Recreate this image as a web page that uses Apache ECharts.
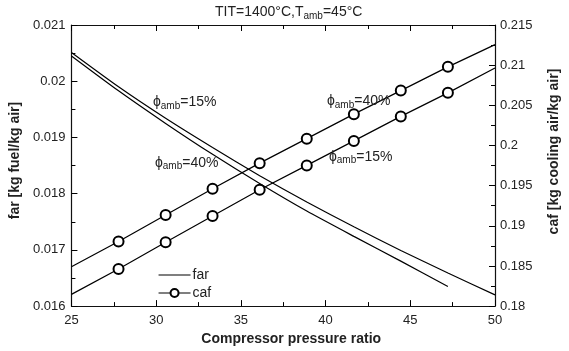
<!DOCTYPE html>
<html>
<head>
<meta charset="utf-8">
<script src="https://cdn.jsdelivr.net/npm/echarts@6/dist/echarts.min.js"></script>
<style>
  html, body { margin: 0; padding: 0; background: #fff; }
  #chart { width: 569px; height: 351px; }
</style>
</head>
<body>
<div id="chart"></div>
<script>
// Compressor pressure ratio sampling points
const pressureRatio = [25, 27.78, 30.56, 33.33, 36.11, 38.89, 41.67, 44.44, 47.22, 50];

// Fuel-air ratio [kg fuel/kg air]
const far15 = [0.02051, 0.01990, 0.01934, 0.01882, 0.01832, 0.01785, 0.01741, 0.01699, 0.01659, 0.01620];
const far40 = [0.02045, 0.01983, 0.01925, 0.01870, 0.01818, 0.01769, 0.01724, 0.01680, 0.01635];

// Cooling air fraction [kg cooling air/kg air]
const caf40 = [0.18491, 0.18805, 0.19134, 0.19460, 0.19780, 0.20085, 0.20390, 0.20683, 0.20979, 0.21256];
const caf15 = [0.18146, 0.18463, 0.18796, 0.19122, 0.19448, 0.19752, 0.20057, 0.20362, 0.20655, 0.20965];

// Curve annotations: [x, y, text]
const farNotes = [[29.81, 0.019624, '15%'], [29.93, 0.018544, '40%']];
const cafNotes = [[40.08, 0.20549, '40%'], [40.2, 0.19854, '15%']];

const FONT = 'Liberation Sans, Arial, sans-serif';
const TXT = '#222';

const fmt = v => String(parseFloat(Number(v).toFixed(4)));

const rich = {
  p: { fontSize: 14, color: TXT, fontFamily: FONT, lineHeight: 17 },
  s: { fontSize: 10, color: TXT, fontFamily: FONT, lineHeight: 11, verticalAlign: 'bottom' },
  n: { fontSize: 14, color: TXT, fontFamily: FONT, lineHeight: 17 }
};

function notes(list) {
  return {
    symbol: 'circle',
    symbolSize: 0,
    silent: true,
    label: { show: true, position: 'right', distance: 0, rich: rich },
    data: list.map(([x, y, t]) => ({
      coord: [x, y],
      label: { formatter: '{p|ϕ}{s|amb}{n|=' + t + '}' }
    }))
  };
}

function pairs(values, withMarkers) {
  return values.map((v, i) => {
    const item = { value: [pressureRatio[i], v] };
    if (withMarkers && (i === 0 || i === values.length - 1)) item.symbol = 'none';
    return item;
  });
}

// Inward major/minor ticks on every side of the frame
function frame() {
  return {
    axisLine: { show: true, onZero: false, lineStyle: { color: '#111', width: 1.2, opacity: 1 } },
    axisTick: { show: true, inside: true, length: 6, lineStyle: { color: '#000', width: 1, opacity: 1 } },
    minorTick: { show: true, splitNumber: 2, length: 4, lineStyle: { color: '#000', width: 1, opacity: 1 } },
    splitLine: { show: false },
    minorSplitLine: { show: false }
  };
}

const chart = echarts.init(document.getElementById('chart'), null, { renderer: 'canvas' });

chart.setOption({
  animation: false,
  backgroundColor: '#fff',
  title: {
    text: 'TIT=1400°C,T{s|amb}=45°C',
    left: 215,
    top: 4,
    padding: 0,
    textStyle: {
      fontSize: 14, fontWeight: 'normal', color: TXT, fontFamily: FONT, lineHeight: 17,
      rich: {
        s: { fontSize: 10, color: TXT, fontFamily: FONT, lineHeight: 11, verticalAlign: 'bottom' }
      }
    }
  },
  grid: { left: 70, right: 68, top: 25, bottom: 39, containLabel: false },
  legend: {
    orient: 'vertical',
    left: 158,
    top: 268,
    padding: 0,
    itemWidth: 32,
    itemHeight: 10,
    itemGap: 4,
    symbolKeepAspect: true,
    lineStyle: { width: 1.1, color: '#000' },
    data: [
      { name: 'far', icon: 'path://M0,0 L32,0 L32,1.2 L0,1.2 Z', itemStyle: { color: '#000' } },
      'caf'
    ],
    textStyle: { fontSize: 14, color: TXT, fontFamily: FONT, padding: [0, 0, 0, -3] }
  },
  xAxis: [
    Object.assign({
      type: 'value', min: 25, max: 50, interval: 5, position: 'bottom',
      name: 'Compressor pressure ratio', nameLocation: 'middle', nameGap: 22,
      nameTextStyle: { fontSize: 14, fontWeight: 'bold', color: TXT, fontFamily: FONT, padding: [0, 0, 0, 16] },
      axisLabel: { fontSize: 13, color: TXT, fontFamily: FONT, margin: 8 }
    }, frame()),
    Object.assign({
      type: 'value', min: 25, max: 50, interval: 5, position: 'top',
      axisLabel: { show: false }
    }, frame())
  ],
  yAxis: [
    Object.assign({
      type: 'value', min: 0.016, max: 0.021, interval: 0.001, position: 'left',
      name: 'far [kg fuel/kg air]', nameLocation: 'middle', nameGap: 47, nameRotate: 90,
      nameTextStyle: { fontSize: 14, fontWeight: 'bold', color: TXT, fontFamily: FONT, padding: [0, 0, 0, 10] },
      axisLabel: { fontSize: 13, color: TXT, fontFamily: FONT, margin: 6, formatter: fmt }
    }, frame()),
    Object.assign({
      type: 'value', min: 0.18, max: 0.215, interval: 0.005, position: 'right',
      name: 'caf [kg cooling air/kg air]', nameLocation: 'middle', nameGap: 52, nameRotate: 90,
      nameTextStyle: { fontSize: 14, fontWeight: 'bold', color: TXT, fontFamily: FONT, padding: [0, 0, 0, 28] },
      axisLabel: { fontSize: 13, color: TXT, fontFamily: FONT, margin: 5, formatter: fmt }
    }, frame())
  ],
  series: [
    {
      name: 'far', type: 'line', xAxisIndex: 0, yAxisIndex: 0,
      data: pairs(far15, false), symbol: 'none', smooth: 0.2,
      color: '#000', lineStyle: { color: '#000', width: 1.2 }
    },
    {
      name: 'far', type: 'line', xAxisIndex: 0, yAxisIndex: 0,
      data: pairs(far40, false), symbol: 'none', smooth: 0.2,
      color: '#000', lineStyle: { color: '#000', width: 1.2 },
      markPoint: notes(farNotes)
    },
    {
      name: 'caf', type: 'line', xAxisIndex: 0, yAxisIndex: 1,
      data: pairs(caf40, true), symbol: 'emptyCircle', symbolSize: 10, showAllSymbol: true,
      color: '#000', itemStyle: { color: '#000', borderWidth: 1.2 },
      lineStyle: { color: '#000', width: 1.2 },
      markPoint: notes(cafNotes)
    },
    {
      name: 'caf', type: 'line', xAxisIndex: 0, yAxisIndex: 1,
      data: pairs(caf15, true), symbol: 'emptyCircle', symbolSize: 10, showAllSymbol: true,
      color: '#000', itemStyle: { color: '#000', borderWidth: 1.2 },
      lineStyle: { color: '#000', width: 1.2 }
    }
  ]
});
</script>
</body>
</html>
